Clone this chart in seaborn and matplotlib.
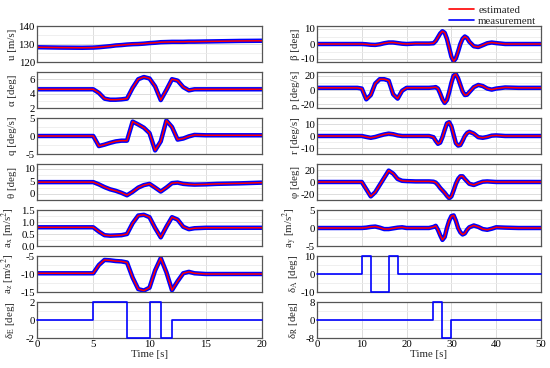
import matplotlib
matplotlib.use("Agg")
import matplotlib.pyplot as plt
from matplotlib.lines import Line2D
from matplotlib.ticker import AutoMinorLocator
import seaborn as sns

# Longitudinal manoeuvre (left column)
T_LEFT = [0, 2, 4, 5, 5.5, 6, 6.5, 7, 7.5, 8, 8.5, 9, 9.5, 10, 10.5, 11, 11.5, 12, 12.5, 13, 13.5, 14, 15, 16, 18, 20]
U = [128.2, 128.0, 127.9, 128.0, 128.2, 128.5, 128.8, 129.2, 129.4, 129.7, 129.9, 130.0, 130.2,
     130.5, 130.7, 131.0, 131.1, 131.2, 131.2, 131.2, 131.3, 131.3, 131.4, 131.5, 131.7, 131.8]
ALPHA = [4.6, 4.6, 4.6, 4.6, 4.1, 3.3, 3.15, 3.15, 3.2, 3.3, 4.8, 6.0, 6.3,
         6.1, 5.0, 3.1, 4.5, 6.0, 5.8, 4.9, 4.45, 4.6, 4.6, 4.6, 4.6, 4.6]
Q = [0, 0, 0, 0, -2.8, -2.4, -1.9, -1.5, -1.3, -1.3, 4.0, 3.2, 2.3,
     0.8, -4.0, -1.5, 4.3, 2.5, -1.0, -0.7, -0.1, 0.3, 0.2, 0.2, 0.2, 0.2]
THETA = [4.7, 4.7, 4.7, 4.7, 3.8, 2.7, 1.8, 1.2, 0.4, -0.6, 0.8, 2.5, 3.5,
         4.0, 2.5, 0.9, 2.5, 4.3, 4.5, 4.0, 3.8, 3.7, 3.8, 4.0, 4.2, 4.5]
AX = [0.78, 0.78, 0.78, 0.78, 0.6, 0.45, 0.43, 0.44, 0.45, 0.5, 0.95, 1.27, 1.3,
      1.2, 0.75, 0.36, 0.8, 1.2, 1.1, 0.8, 0.7, 0.74, 0.76, 0.76, 0.76, 0.76]
AZ = [-9.8, -9.8, -9.8, -9.8, -7.5, -6.1, -6.2, -6.4, -6.5, -6.8, -11.0, -14.2, -14.6,
      -13.8, -9.0, -5.6, -9.5, -14.5, -12.0, -9.8, -9.4, -9.8, -10.0, -10.0, -10.0, -10.0]
T_DE = [0, 5, 8, 10, 11, 12, 20]
DE = [0, 2, -2, 2, -2, 0, 0]

# Lateral manoeuvre (right column)
T_RIGHT = [0, 5, 8, 9, 10, 11, 12, 13, 14, 15, 16, 17, 18, 19, 20, 22, 24, 25, 26,
           26.5, 27, 27.5, 28, 28.5, 29, 29.5, 30, 30.5, 31, 31.5, 32, 32.5, 33, 33.5, 34,
           35, 36, 37, 38, 39, 40, 42, 45, 50]
BETA = [0, 0, 0, 0, 0, -0.2, -0.5, -0.6, -0.2, 0.5, 1.0, 1.0, 0.6, 0.2, 0, 0.3, 0.3, 0.3, 0.5,
        2, 4.5, 7, 8.5, 7.5, 3.5, -2.5, -8.5, -11.5, -9.5, -5, 0, 3.5, 5, 4, 1.5,
        -1.5, -2, -0.8, 0.5, 1.0, 0.6, 0, 0, 0]
P = [3, 3, 3, 3, 2, -13, -7, 9, 15, 15, 13, -6, -12, -1, 3, 3, 3, 3, 3.5,
     4, 2, -5, -13, -18, -14, -3, 10, 20, 22, 16, 7, -2, -7, -6.5, -3,
     4, 7, 5.5, 2, 0.5, 2, 3.5, 3, 3]
R = [0, 0, 0, 0, 0, -0.8, -1.5, -0.8, 0.3, 1.3, 2.0, 1.5, 0.5, 0, 0, 0, 0, 0, -1,
     -4, -6.5, -5.5, -1, 5, 10.5, 11.5, 8, 1, -6, -8, -7.5, -4, 0, 2.5, 3.5,
     2, -1, -1.5, -0.8, 0.3, 0.5, 0, 0, 0]
PHI = [0, 0, 0, 0, 0, -12, -24, -17, -5, 7, 19, 14, 5, 2, 1.5, 1, 1, 1, 0.5,
       -1, -5, -10, -14, -18, -23, -27, -24, -14, -3, 5, 9.5, 9.5, 5, 1, -3,
       -5, -2, 0.5, 1, 0.5, 0, 0, 0, 0]
AY = [0, 0, 0, 0, 0, 0.1, 0.3, 0.4, 0.1, -0.3, -0.3, -0.1, 0.1, 0.2, 0, 0, 0, 0, 0.3,
      0.6, -0.5, -2, -3.3, -2.5, 0, 2, 3.3, 3.5, 2, 0, -1.2, -1.8, -1.5, -0.5, 0.2,
      0.7, 0.3, -0.3, -0.5, -0.2, 0.2, 0.1, 0, 0]
T_DA = [0, 10, 12, 16, 18, 50]
DA = [0, 10, -10, 10, 0, 0]
T_DR = [0, 26, 28, 30, 50]
DR = [0, 8, -8, 0, 0]

LEFT_PANELS = [
    ("u [m/s]", U, (120, 140), [120, 130, 140], "%g"),
    (r"α [deg]", ALPHA, (2, 7), [2, 4, 6], "%g"),
    (r"q [deg/s]", Q, (-5, 5), [-5, 0, 5], "%g"),
    (r"θ [deg]", THETA, (-2.5, 12), [0, 5, 10], "%g"),
    (r"a$_\mathrm{x}$ [m/s$^\mathrm{2}$]", AX, (0, 1.5), [0, 0.5, 1.0, 1.5], "%.1f"),
    (r"a$_\mathrm{z}$ [m/s$^\mathrm{2}$]", AZ, (-15, -5), [-15, -10, -5], "%g"),
]
RIGHT_PANELS = [
    (r"β [deg]", BETA, (-12, 12), [-10, 0, 10], "%g"),
    (r"p [deg/s]", P, (-25, 25), [-20, 0, 20], "%g"),
    (r"r [deg/s]", R, (-15, 15), [-10, 0, 10], "%g"),
    (r"φ [deg]", PHI, (-30, 30), [-20, 0, 20], "%g"),
    (r"a$_\mathrm{y}$ [m/s$^\mathrm{2}$]", AY, (-5, 5), [-5, 0, 5], "%g"),
]
LEFT_INPUTS = [(r"δ$_\mathrm{E}$ [deg]", T_DE, DE, (-2, 2), [-2, 0, 2])]
RIGHT_INPUTS = [
    (r"δ$_\mathrm{A}$ [deg]", T_DA, DA, (-10, 10), [-10, 0, 10]),
    (r"δ$_\mathrm{R}$ [deg]", T_DR, DR, (-8, 8), [-8, 0, 8]),
]

sns.set_theme(style="white")
plt.rcParams["font.family"] = ["Liberation Serif", "DejaVu Serif"]
plt.rcParams["mathtext.fontset"] = "stix"
plt.rcParams["axes.unicode_minus"] = False
FS = 7.8

W, H = 550, 368
fig = plt.figure(figsize=(W / 100, H / 100), dpi=100)

RED, BLUE = "#ff0000", "#0000ff"


def make_ax(col, row, xmax, xticks, bottom):
    x0, x1 = (37, 262) if col == 0 else (317, 541)
    top = 26 + 46 * row
    ax = fig.add_axes([x0 / W, 1 - (top + 36) / H, (x1 - x0) / W, 36 / H])
    ax.set_xlim(0, xmax)
    ax.set_xticks(xticks)
    ax.xaxis.set_minor_locator(AutoMinorLocator(1))
    ax.yaxis.set_minor_locator(AutoMinorLocator(2))
    ax.grid(True, which="major", color="#dcdcdc", linewidth=0.7)
    ax.grid(True, which="minor", axis="y", color="#ececec", linewidth=0.6)
    ax.set_axisbelow(True)
    ax.tick_params(direction="in", length=2.5, width=0.6, labelsize=FS, pad=1.5,
                   colors="#333333", labelcolor="black")
    ax.tick_params(which="minor", length=0)
    for s in ax.spines.values():
        s.set_color("#555555")
        s.set_linewidth(0.9)
    if bottom:
        ax.set_xlabel("Time [s]", fontsize=FS, labelpad=1)
    else:
        ax.set_xticklabels([])
    return ax


def style_y(ax, label, ylim, yticks, fmt, col):
    ax.set_ylim(*ylim)
    ax.set_yticks(yticks)
    ax.set_yticklabels([fmt % v for v in yticks])
    ax.set_ylabel(label, fontsize=FS)
    ax.yaxis.set_label_coords(-0.09 if col == 0 else -0.078, 0.5)


for col, (t, panels, inputs, xmax, xticks) in enumerate([
        (T_LEFT, LEFT_PANELS, LEFT_INPUTS, 20, [0, 5, 10, 15, 20]),
        (T_RIGHT, RIGHT_PANELS, RIGHT_INPUTS, 50, [0, 10, 20, 30, 40, 50])]):
    nrows = len(panels) + len(inputs)
    for row, (label, vals, ylim, yticks, fmt) in enumerate(panels):
        ax = make_ax(col, row, xmax, xticks, False)
        # measurement band (noisy signal) and estimate on top
        sns.lineplot(x=t, y=vals, ax=ax, color=BLUE, linewidth=3.2, sort=False)
        sns.lineplot(x=t, y=vals, ax=ax, color=RED, linewidth=1.1, sort=False)
        style_y(ax, label, ylim, yticks, fmt, col)
    for k, (label, ts, vals, ylim, yticks) in enumerate(inputs):
        row = len(panels) + k
        ax = make_ax(col, row, xmax, xticks, row == nrows - 1)
        sns.lineplot(x=ts, y=vals, ax=ax, color=BLUE, linewidth=1.2, sort=False,
                     drawstyle="steps-post", clip_on=False, zorder=5)
        style_y(ax, label, ylim, yticks, "%g", col)

handles = [Line2D([], [], color=RED, linewidth=1.2), Line2D([], [], color=BLUE, linewidth=1.2)]
fig.legend(handles, ["estimated", "measurement"], loc="upper right",
           bbox_to_anchor=(544 / W, 1 + 2 / H), frameon=False, fontsize=FS,
           handlelength=2.3, handletextpad=0.4, labelspacing=0.1, borderpad=0.2)

fig.savefig("out.png", dpi=100, facecolor="white")
